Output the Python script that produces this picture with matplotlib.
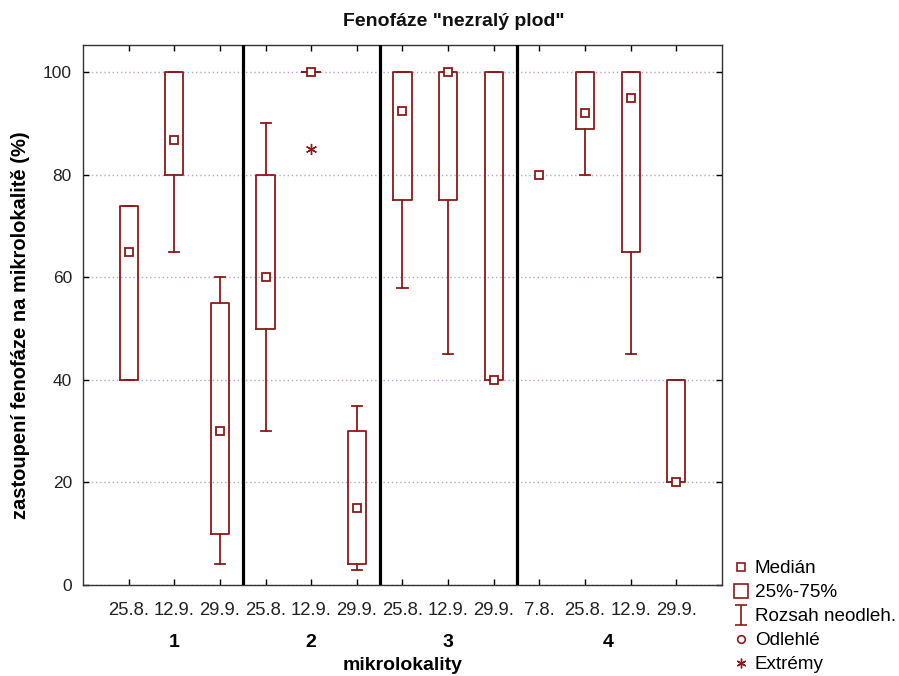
import matplotlib
matplotlib.use("Agg")
import matplotlib.pyplot as plt
from matplotlib.lines import Line2D
from matplotlib.path import Path
from matplotlib.transforms import blended_transform_factory
import numpy as np

# ---- data -------------------------------------------------------------
dates = ['25.8.', '12.9.', '29.9.',
         '25.8.', '12.9.', '29.9.',
         '25.8.', '12.9.', '29.9.',
         '7.8.', '25.8.', '12.9.', '29.9.']
groups = ['1', '2', '3', '4']
group_sizes = [3, 3, 3, 4]

median = [65, 86.7, 30, 60, 100, 15, 92.5, 100, 40, 80, 92, 95, 20]
q1 = [40, 80, 10, 50, 100, 4, 75, 75, 40, None, 89, 65, 20]
q3 = [74, 100, 55, 80, 100, 30, 100, 100, 100, None, 100, 100, 40]
whis_lo = [40, 65, 4, 30, 100, 3, 58, 45, 40, None, 80, 45, 20]
whis_hi = [74, 100, 60, 90, 100, 35, 100, 100, 100, None, 100, 100, 40]
extremes = [[], [], [], [], [85], [], [], [], [], [], [], [], []]

legend_labels = ['Medián', '25%-75%', 'Rozsah neodleh.', 'Odlehlé', 'Extrémy']

title = 'Fenofáze "nezralý plod"'
xlabel = 'mikrolokality'
ylabel = 'zastoupení fenofáze na mikrolokalitě (%)'

# ---- style ------------------------------------------------------------
RED = '#8b1a1a'
plt.rcParams['font.family'] = ['Liberation Sans', 'DejaVu Sans']

fig = plt.figure(figsize=(8.99, 6.76), dpi=100)
ax = fig.add_axes([83 / 899, 1 - 585 / 676, (722 - 83) / 899, (585 - 45) / 676])

positions = np.arange(1, len(dates) + 1)

# box statistics for ax.bxp (categories without a box are skipped)
stats, box_pos = [], []
for i, p in enumerate(positions):
    if q1[i] is None:
        continue
    stats.append(dict(med=median[i], q1=q1[i], q3=q3[i],
                      whislo=whis_lo[i], whishi=whis_hi[i],
                      fliers=extremes[i]))
    box_pos.append(p)

ax.bxp(stats, positions=box_pos, widths=0.4, capwidths=0.22,
       boxprops=dict(color=RED, linewidth=1.3),
       whiskerprops=dict(color=RED, linewidth=1.3),
       capprops=dict(color=RED, linewidth=1.3),
       medianprops=dict(linewidth=0),
       flierprops=dict(marker=(6, 2, 0), markersize=8, markeredgecolor=RED,
                       markeredgewidth=1.0, linestyle='none'),
       manage_ticks=False, zorder=3)

# medians as open squares
ax.plot(positions, median, linestyle='none', marker='s', markersize=6.3,
        markerfacecolor='white', markeredgecolor=RED, markeredgewidth=1.3,
        zorder=4)

# group separators
bounds = np.cumsum(group_sizes)[:-1] + 0.5
for b in bounds:
    ax.axvline(b, color='black', linewidth=2.3, zorder=5)

ax.set_xlim(0, len(dates) + 1)
ax.set_ylim(0, 105.3)
ax.set_yticks([0, 20, 40, 60, 80, 100])
ax.set_xticks(positions)
ax.set_xticklabels(dates)
ax.yaxis.grid(True, color='#b9a2d6', linestyle=(0, (1, 2)), linewidth=1.0)
ax.set_axisbelow(True)

ax.tick_params(axis='x', direction='in', top=True, length=4, width=1,
               pad=12, labelsize=13.3, labelcolor='#222222')
ax.tick_params(axis='y', direction='in', right=True, length=4, width=1,
               pad=8, labelsize=12.5, labelcolor='#222222')
for s in ax.spines.values():
    s.set_linewidth(1.0)
    s.set_color('#333333')

# group labels below the date labels
trans = blended_transform_factory(ax.transData, ax.transAxes)
start = 0
for g, n in zip(groups, group_sizes):
    centre = positions[start:start + n].mean()
    ax.text(centre, -0.106, g, transform=trans, ha='center', va='center',
            fontsize=14, fontweight='bold')
    start += n

ax.set_xlabel(xlabel, fontsize=14, fontweight='bold')
ax.xaxis.set_label_coords(0.5, (585 - 665) / 540, transform=ax.transAxes)
ax.xaxis.label.set_va('center')
ax.set_ylabel(ylabel, fontsize=14.5, fontweight='bold')
ax.yaxis.set_label_coords((21 - 83) / 639, (585 - 325) / 540,
                          transform=ax.transAxes)
ax.yaxis.label.set_va('center')
fig.text(0.505, 1 - 22 / 676, title, ha='center', va='center',
         fontsize=14, fontweight='bold', color='#111111')

# legend
ibeam = Path([(-0.65, 1), (0.65, 1), (0, 1), (0, -1), (-0.65, -1), (0.65, -1)],
             [Path.MOVETO, Path.LINETO, Path.MOVETO, Path.LINETO,
              Path.MOVETO, Path.LINETO])
handles = [
    Line2D([], [], linestyle='none', marker='s', markersize=5.5,
           markerfacecolor='white', markeredgecolor=RED, markeredgewidth=1.2),
    Line2D([], [], linestyle='none', marker='s', markersize=9.5,
           markerfacecolor='white', markeredgecolor=RED, markeredgewidth=1.2),
    Line2D([], [], linestyle='none', marker=ibeam, markersize=14,
           markeredgecolor=RED, markeredgewidth=1.2),
    Line2D([], [], linestyle='none', marker='o', markersize=5.5,
           markerfacecolor='white', markeredgecolor=RED, markeredgewidth=1.2),
    Line2D([], [], linestyle='none', marker=(6, 2, 0), markersize=7,
           markeredgecolor=RED, markeredgewidth=1.0),
]
fig.legend(handles, legend_labels, loc='upper left',
           bbox_to_anchor=(733 / 899, 1 - 560 / 676), frameon=False,
           fontsize=13.6, handlelength=0.8, handletextpad=0.35,
           labelspacing=0.36, borderpad=0, borderaxespad=0)

fig.savefig('out.png', dpi=100)
